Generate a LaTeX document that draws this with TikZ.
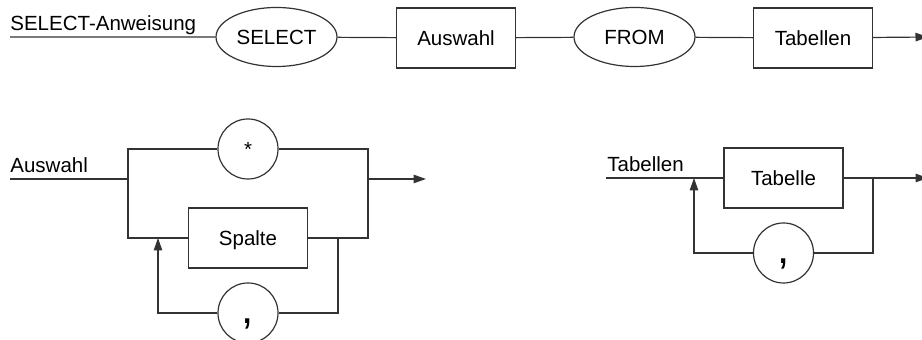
\documentclass[tikz,border=0pt]{standalone}
\usepackage{fontspec}
\setmainfont{Liberation Sans}
\usetikzlibrary{shapes.geometric,arrows.meta}
\begin{document}
\begin{tikzpicture}[x=0.5pt,y=-0.5pt,
        every node/.style={font=\fontsize{10.25}{12}\selectfont},
        line/.style={draw=black!80,line width=0.6pt},
        terminal/.style={line,ellipse,inner sep=0pt,text height=7.5pt,text depth=0pt,
            minimum width=60.5pt,minimum height=29.5pt},
        nonterm/.style={line,rectangle,inner sep=0pt,text height=7.5pt,text depth=0pt,
            minimum width=59.5pt,minimum height=30pt},
        symbol/.style={line,circle,inner sep=0pt,text height=7.5pt,text depth=0pt,minimum size=30pt},
        komma/.style={symbol,font=\fontsize{22}{22}\selectfont,text height=11pt},
        caption/.style={anchor=base west,inner sep=0pt},
        pfeil/.style={line,-{Triangle[length=6.25pt,width=4.25pt]}}]
                \useasboundingbox (0,0) rectangle (922,340);
                % SELECT-Anweisung
                \begin{scope}
                \coordinate (s0) at (10,37);
                \coordinate (sE) at (928,37);
                \node[caption] (sName) at (10,31) {SELECT-Anweisung};
                \node[terminal] (select) at (276.5,37) {SELECT};
                \node[nonterm] (auswahl) at (456,38) {Auswahl};
                \node[terminal] (from) at (634.5,37) {FROM};
                \node[nonterm] (tabellen) at (813,38) {Tabellen};
                \draw[line] (s0) -- (select) -- (auswahl) -- (from) -- (tabellen);
                \draw[pfeil] (tabellen) -- (sE);
                \end{scope}
                % Auswahl
                \begin{scope}
                \coordinate (a0) at (10,179);
                \coordinate (aL) at (128,179);
                \coordinate (aR) at (368,179);
                \coordinate (aE) at (426,179);
                \coordinate (lR) at (338,238);
                \coordinate (lL) at (158,238);
                \node[caption] (aName) at (10,173) {Auswahl};
                \node[symbol] (stern) at (248,149) {*};
                \node[nonterm] (spalte) at (248,238) {Spalte};
                \node[komma] (komma1) at (248,313) {,};
                \draw[line] (a0) -- (aL) |- (stern);
                \draw[line] (stern) -| (aR);
                \draw[line] (aL) |- (spalte);
                \draw[line] (spalte) -| (aR);
                \draw[pfeil] (aR) -- (aE);
                \draw[line] (lR) |- (komma1);
                \draw[pfeil] (komma1) -| (lL);
                \end{scope}
                % Tabellen
                \begin{scope}
                \coordinate (t0) at (606,178);
                \coordinate (tL) at (694,178);
                \coordinate (tR) at (873,178);
                \coordinate (tE) at (928,178);
                \node[caption] (tName) at (607,172) {Tabellen};
                \node[nonterm] (tabelle) at (783.5,178) {Tabelle};
                \node[komma] (komma2) at (783.5,253) {,};
                \draw[line] (t0) -- (tabelle);
                \draw[pfeil] (tabelle) -- (tE);
                \draw[line] (tR) |- (komma2);
                \draw[pfeil] (komma2) -| (tL);
                \end{scope}
            \end{tikzpicture}
\end{document}
